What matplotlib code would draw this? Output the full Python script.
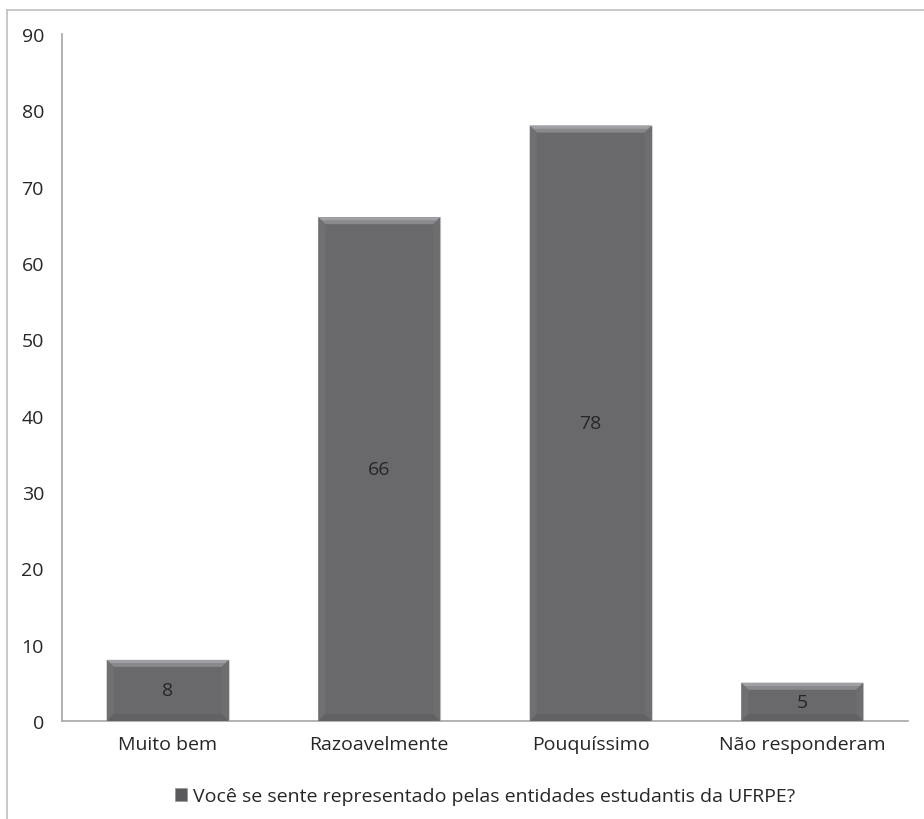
import matplotlib
matplotlib.use("Agg")
import matplotlib.pyplot as plt
from matplotlib.patches import Polygon, Rectangle
from matplotlib.lines import Line2D

categories = ["Muito bem", "Razoavelmente", "Pouquíssimo", "Não responderam"]
values = [8, 66, 78, 5]
series_name = "Você se sente representado pelas entidades estudantis da UFRPE?"
y_ticks = [0, 10, 20, 30, 40, 50, 60, 70, 80, 90]

plt.rcParams['font.family'] = ['Open Sans', 'DejaVu Sans']

W, H, DPI = 924, 820, 100
fig = plt.figure(figsize=(W / DPI, H / DPI), dpi=DPI)
ax = fig.add_axes([62 / W, 1 - 722 / H, (908 - 62) / W, (722 - 35) / H])

bar_color = "#69696c"
text_color = "#262626"
axis_color = "#a6a6a6"

x = list(range(len(categories)))
bars = ax.bar(x, values, width=0.577, color=bar_color, edgecolor="#d6d6d6",
              linewidth=0.8, zorder=2)

ax.set_xlim(-0.5, len(categories) - 0.5)
ax.set_ylim(0, 90)
ax.set_yticks(y_ticks)
ax.set_xticks(x)
ax.set_xticklabels(categories)
ax.tick_params(axis="both", length=0, labelsize=14, colors=text_color)
ax.tick_params(axis="y", pad=13)
ax.tick_params(axis="x", pad=10)
for side in ("top", "right"):
    ax.spines[side].set_visible(False)
for side in ("left", "bottom"):
    ax.spines[side].set_color(axis_color)
    ax.spines[side].set_linewidth(1.2)

# bevelled edges on each bar (sizes in pixels, converted to data units)
fig.canvas.draw()
px_x = 1.0 / (ax.transData.transform((1, 0))[0] - ax.transData.transform((0, 0))[0])
px_y = 1.0 / (ax.transData.transform((0, 1))[1] - ax.transData.transform((0, 0))[1])
bev = 7
for b in bars:
    x0, y0 = b.get_x(), b.get_y()
    x1, y1 = x0 + b.get_width(), y0 + b.get_height()
    dx, dy = bev * px_x, bev * px_y
    # top
    ax.add_patch(Polygon([(x0, y1), (x1, y1), (x1 - dx, y1 - dy), (x0 + dx, y1 - dy)],
                         closed=True, color="#89898d", lw=0, zorder=3))
    ax.add_patch(Polygon([(x0, y1), (x1, y1), (x1 - dx * 0.5, y1 - dy * 0.45), (x0 + dx * 0.5, y1 - dy * 0.45)],
                         closed=True, color="#a0a0a4", lw=0, zorder=3))
    # left / right
    ax.add_patch(Polygon([(x0, y0), (x0, y1), (x0 + dx, y1 - dy), (x0 + dx, y0 + dy)],
                         closed=True, color="#707073", lw=0, zorder=3))
    ax.add_patch(Polygon([(x1, y0), (x1, y1), (x1 - dx, y1 - dy), (x1 - dx, y0 + dy)],
                         closed=True, color="#6e6e71", lw=0, zorder=3))
    # bottom
    ax.add_patch(Polygon([(x0, y0), (x1, y0), (x1 - dx, y0 + dy), (x0 + dx, y0 + dy)],
                         closed=True, color="#626265", lw=0, zorder=3))

for xi, v in zip(x, values):
    ax.text(xi, v / 2, str(v), ha="center", va="center", fontsize=14,
            color=text_color, zorder=4)

# legend
handle = Rectangle((0, 0), 1, 1, facecolor="#5a5a5d", edgecolor="#9a9a9a", lw=0.6)
fig.legend([handle], [series_name], loc="center", bbox_to_anchor=(485 / W, 1 - 797 / H),
           frameon=False, fontsize=14, handlelength=0.65, handleheight=0.65,
           handletextpad=0.3, labelcolor=text_color)

# chart area frame
frame_color = "#bfbfbf"
fig.add_artist(Line2D([7.5 / W, 7.5 / W], [0, 1 - 11 / H], transform=fig.transFigure,
                      color=frame_color, lw=1.2))
fig.add_artist(Line2D([7.5 / W, 1], [1 - 11 / H, 1 - 11 / H], transform=fig.transFigure,
                      color=frame_color, lw=1.2))

fig.savefig("out.png", dpi=DPI, facecolor="white")
